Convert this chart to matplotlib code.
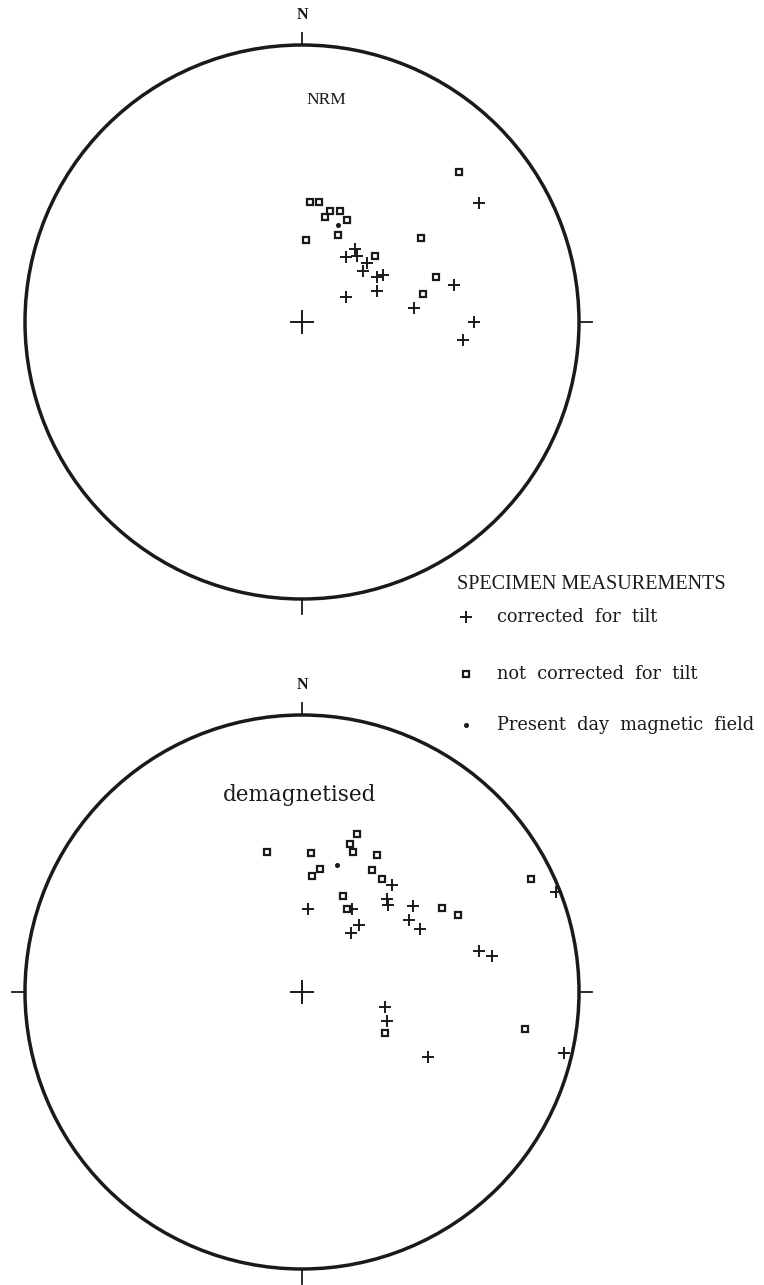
import numpy as np
import matplotlib
matplotlib.use("Agg")
import matplotlib.pyplot as plt
from matplotlib.patches import Circle
from matplotlib.lines import Line2D

# ---------------- data (net coordinates: east, north in units of net radius) -------------
nrm_corr_e = [0.638, 0.192, 0.199, 0.159, 0.236, 0.221, 0.272, 0.293, 0.272, 0.159, 0.547, 0.406, 0.620, 0.583]
nrm_corr_n = [0.431, 0.264, 0.239, 0.236, 0.214, 0.185, 0.163, 0.170, 0.112, 0.091, 0.134, 0.051, 0.000, -0.065]
nrm_uncorr_e = [0.565, 0.029, 0.062, 0.083, 0.101, 0.138, 0.163, 0.130, 0.014, 0.428, 0.264, 0.482, 0.438]
nrm_uncorr_n = [0.543, 0.435, 0.435, 0.380, 0.399, 0.399, 0.370, 0.315, 0.297, 0.304, 0.239, 0.163, 0.101]
nrm_field_e = [0.130]
nrm_field_n = [0.351]

dem_corr_e = [0.022, 0.181, 0.325, 0.307, 0.310, 0.401, 0.386, 0.426, 0.206, 0.177, 0.639, 0.686, 0.300, 0.307, 0.917, 0.946, 0.455]
dem_corr_n = [0.300, 0.300, 0.386, 0.336, 0.314, 0.310, 0.260, 0.227, 0.242, 0.213, 0.148, 0.130, -0.054, -0.105, 0.361, -0.220, -0.235]
dem_uncorr_e = [-0.126, 0.032, 0.199, 0.173, 0.184, 0.271, 0.065, 0.036, 0.253, 0.289, 0.148, 0.162, 0.505, 0.563, 0.300, 0.827, 0.805]
dem_uncorr_n = [0.505, 0.502, 0.570, 0.534, 0.505, 0.495, 0.444, 0.419, 0.440, 0.408, 0.347, 0.300, 0.303, 0.278, -0.148, 0.408, -0.134]
dem_field_e = [0.126]
dem_field_n = [0.458]

panel_titles = ["NRM", "demagnetised"]
legend_title = "SPECIMEN MEASUREMENTS"
legend_labels = ["corrected  for  tilt", "not  corrected  for  tilt", "Present  day  magnetic  field"]

# ---------------- figure ----------------
W, H = 764, 1285
fig = plt.figure(figsize=(W / 100, H / 100), dpi=100)
fig.patch.set_facecolor("white")

SERIF = ["Liberation Serif", "DejaVu Serif"]
INK = "#1a1a1a"


def px_axes(cx, cy, r, lim=1.15):
    half = r * lim
    return fig.add_axes([(cx - half) / W, 1 - (cy + half) / H, 2 * half / W, 2 * half / H])


def draw_net(ax, ticks, title, title_xy, title_size, corr, uncorr, field, title_font):
    ax.set_xlim(-1.15, 1.15)
    ax.set_ylim(-1.15, 1.15)
    ax.set_aspect("equal")
    ax.axis("off")
    ax.add_patch(Circle((0, 0), 1.0, fill=False, lw=2.5, ec=INK))
    for t in ticks:
        if t == "N":
            ax.plot([0, 0], [1.0, 1.045], color=INK, lw=1.3)
        elif t == "S":
            ax.plot([0, 0], [-1.0, -1.055], color=INK, lw=1.3)
        elif t == "E":
            ax.plot([1.0, 1.048], [0, 0], color=INK, lw=1.3)
        elif t == "W":
            ax.plot([-1.0, -1.048], [0, 0], color=INK, lw=1.3)
    ax.text(0.0, 1.108, "N", ha="center", va="center", fontsize=11.5,
            fontweight="bold", family=SERIF, color=INK)
    ax.text(title_xy[0], title_xy[1], title, ha="center", va="center",
            fontsize=title_size, family=title_font, color=INK)
    # reference cross at centre
    ax.plot([0], [0], marker="+", ms=17, mew=1.4, color=INK, ls="none")
    ax.plot(corr[0], corr[1], marker="+", ms=8, mew=1.4, color=INK, ls="none")
    ax.plot(uncorr[0], uncorr[1], marker="s", ms=4.4, mew=1.6, mfc="white",
            mec=INK, ls="none")
    ax.plot(field[0], field[1], marker="o", ms=2.6, color=INK, ls="none")


ax1 = px_axes(302, 322, 277)
draw_net(ax1, ["N", "S", "E"], panel_titles[0], (0.087, 0.80), 12.5,
         (nrm_corr_e, nrm_corr_n), (nrm_uncorr_e, nrm_uncorr_n),
         (nrm_field_e, nrm_field_n), SERIF)

ax2 = px_axes(302, 992, 277)
draw_net(ax2, ["N", "S", "E", "W"], panel_titles[1], (-0.01, 0.71), 15.5,
         (dem_corr_e, dem_corr_n), (dem_uncorr_e, dem_uncorr_n),
         (dem_field_e, dem_field_n), ["DejaVu Serif"])

# ---------------- legend ----------------
def fx(x):
    return x / W


def fy(y):
    return 1 - y / H


fig.text(fx(457), fy(585), legend_title, ha="left", va="center", fontsize=14.5,
         family=SERIF, color=INK)
marker_specs = [
    dict(marker="+", ms=8, mew=1.4, color=INK),
    dict(marker="s", ms=4.4, mew=1.6, mfc="white", mec=INK),
    dict(marker="o", ms=2.6, color=INK),
]
rows_y = [617, 674, 725]
for lab, spec, yy in zip(legend_labels, marker_specs, rows_y):
    fig.add_artist(Line2D([fx(466)], [fy(yy)], ls="none", transform=fig.transFigure, **spec))
    fig.text(fx(497), fy(yy), lab, ha="left", va="center", fontsize=12.8,
             family=["DejaVu Serif"], color=INK)

fig.savefig("out.png", dpi=100, facecolor="white")
